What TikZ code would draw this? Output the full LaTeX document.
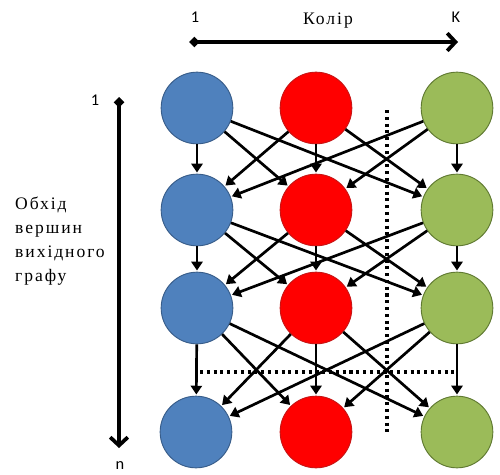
\documentclass[tikz,border=0pt]{standalone}
\usepackage{fontspec}
\setmainfont{Liberation Serif}
\newfontfamily\spacedserif[LetterSpace=11]{Liberation Serif}
\newfontfamily\calibri{Carlito}
\usetikzlibrary{arrows.meta}

\definecolor{vblue}{RGB}{79,129,189}
\definecolor{vbluedraw}{RGB}{56,93,138}
\definecolor{vred}{RGB}{255,0,0}
\definecolor{vreddraw}{RGB}{200,20,20}
\definecolor{vgreen}{RGB}{155,187,89}
\definecolor{vgreendraw}{RGB}{96,122,50}

\begin{document}
\begin{tikzpicture}[x=0.03cm, y=-0.03cm, shorten >=1pt,
			node_style/.style={circle,minimum size=2.15cm,inner sep=0pt,line width=0.8pt},
			blue_style/.style={node_style,draw=vbluedraw,fill=vblue},
			red_style/.style={node_style,draw=vreddraw,fill=vred},
			green_style/.style={node_style,draw=vgreendraw,fill=vgreen},
			edge_style/.style={draw=black,line width=2.3pt,-{Triangle[length=7.5pt,width=9.5pt]}},
			axis_style/.style={draw=black,line width=3.2pt,shorten >=0pt,{Diamond[length=9pt,width=9pt]}-{Straight Barb[length=7pt,width=15pt]}},
			dot_style/.style={draw=black,line width=2.6pt,dash pattern=on 2.6pt off 3.2pt},
			label_style/.style={font=\calibri\fontsize{14}{16}\selectfont,text=black}]
			\useasboundingbox (0,0) rectangle (500,475);
			% vertices
			\node[blue_style] (b1) at (197,108) {};
			\node[red_style] (r1) at (316,108) {};
			\node[green_style] (g1) at (457,108) {};
			\node[blue_style] (b2) at (197,210) {};
			\node[red_style] (r2) at (316,210) {};
			\node[green_style] (g2) at (457,210) {};
			\node[blue_style] (b3) at (197,308) {};
			\node[red_style] (r3) at (316,308) {};
			\node[green_style] (g3) at (457,308) {};
			\node[blue_style] (b4) at (196,432) {};
			\node[red_style] (r4) at (316,432) {};
			\node[green_style] (g4) at (457,432) {};
			% dotted cuts
			\coordinate (vcut1) at (387,110);
			\coordinate (vcut2) at (387,434);
			\coordinate (hcut1) at (200,372);
			\coordinate (hcut2) at (459,372);
			\draw[dot_style] (vcut1) -- (vcut2);
			\draw[dot_style] (hcut1) -- (hcut2);
			% transitions
			\draw[edge_style]  (b1) edge (b2);
			\draw[edge_style]  (b1) edge (r2);
			\draw[edge_style]  (b1) edge (g2);
			\draw[edge_style]  (r1) edge (b2);
			\draw[edge_style]  (r1) edge (r2);
			\draw[edge_style]  (r1) edge (g2);
			\draw[edge_style]  (g1) edge (b2);
			\draw[edge_style]  (g1) edge (r2);
			\draw[edge_style]  (g1) edge (g2);
			\draw[edge_style]  (b2) edge (b3);
			\draw[edge_style]  (b2) edge (r3);
			\draw[edge_style]  (b2) edge (g3);
			\draw[edge_style]  (r2) edge (b3);
			\draw[edge_style]  (r2) edge (r3);
			\draw[edge_style]  (r2) edge (g3);
			\draw[edge_style]  (g2) edge (b3);
			\draw[edge_style]  (g2) edge (r3);
			\draw[edge_style]  (g2) edge (g3);
			\draw[edge_style]  (b3) edge (b4);
			\draw[edge_style]  (b3) edge (r4);
			\draw[edge_style]  (b3) edge (g4);
			\draw[edge_style]  (r3) edge (b4);
			\draw[edge_style]  (r3) edge (r4);
			\draw[edge_style]  (r3) edge (g4);
			\draw[edge_style]  (g3) edge (b4);
			\draw[edge_style]  (g3) edge (r4);
			\draw[edge_style]  (g3) edge (g4);
			% axes
			\coordinate (colour_start) at (189,42);
			\coordinate (colour_end) at (458,42);
			\coordinate (order_start) at (119,97);
			\coordinate (order_end) at (119,448);
			\draw[axis_style] (colour_start) -- (colour_end);
			\draw[axis_style] (order_start) -- (order_end);
			\node[label_style] (one_top) at (195,17) {1};
			\node[label_style] (k_top) at (456,17) {K};
			\node[label_style] (one_left) at (95,100) {1};
			\node[label_style] (n_left) at (120,466) {n};
			\node[font=\spacedserif\fontsize{15}{17}\selectfont] (colour) at (328,21) {Колір};
			\node[font=\spacedserif\fontsize{15}{20.5}\selectfont,align=left,anchor=north west,inner sep=0pt] (order) at (15,197) {Обхід\\вершин\\вихідного\\графу};
			\end{tikzpicture}
\end{document}
